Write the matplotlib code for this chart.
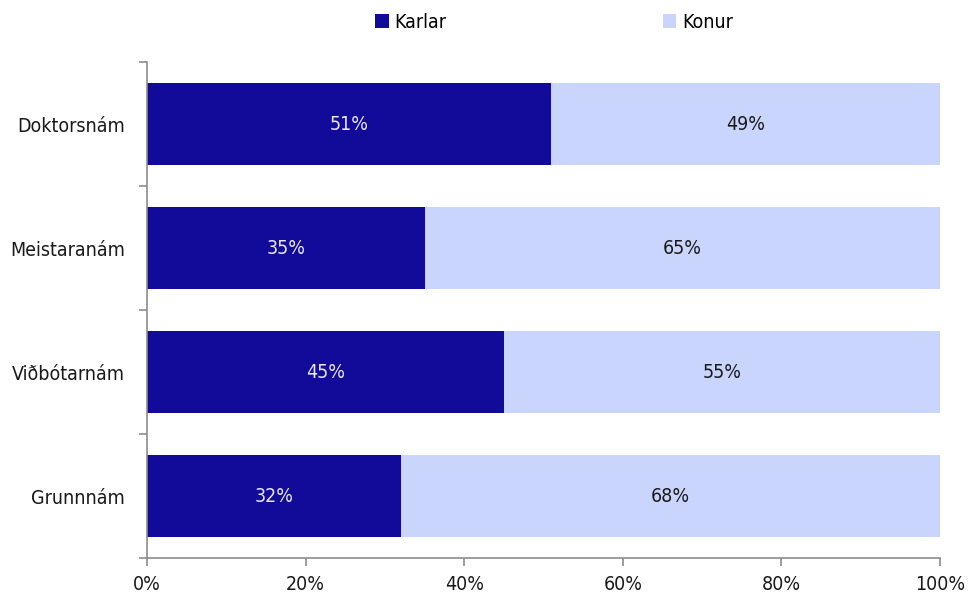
import matplotlib
matplotlib.use('Agg')
import matplotlib.pyplot as plt
from matplotlib.ticker import FuncFormatter, FixedLocator

plt.rcParams['font.family'] = ['DejaVu Sans']
plt.rcParams['font.stretch'] = 'condensed'

# ── Data ─────────────────────────────
categories = ['Doktorsnám', 'Meistaranám', 'Viðbótarnám', 'Grunnnám']
karlar = [51, 35, 45, 32]
konur = [49, 65, 55, 68]

DARK = '#120A99'
LIGHT = '#C9D5FC'
AXIS = '#8C8C8C'
FS = 14

fig = plt.figure(figsize=(9.72, 5.99), dpi=100)
fig.patch.set_facecolor('white')
ax = fig.add_axes([0.1512, 0.0684, 0.8160, 0.8281])

ypos = list(range(len(categories)))[::-1]
b1 = ax.barh(ypos, karlar, height=0.66, color=DARK, label='Karlar')
b2 = ax.barh(ypos, konur, left=karlar, height=0.66, color=LIGHT,
             label='Konur')

for y, k, w in zip(ypos, karlar, konur):
    ax.text(k / 2, y, f'{k}%', ha='center', va='center',
            color='#E8E8F4', fontsize=FS)
    ax.text(k + w / 2, y, f'{w}%', ha='center', va='center',
            color='#1A1A1A', fontsize=FS)

ax.set_xlim(0, 100)
ax.set_ylim(-0.5, len(categories) - 0.5)
ax.set_xticks(range(0, 101, 20))
ax.xaxis.set_major_formatter(FuncFormatter(lambda v, p: f'{v:.0f}%'))
ax.set_yticks(ypos)
ax.set_yticklabels(categories)
ax.yaxis.set_minor_locator(FixedLocator(
    [i - 0.5 for i in range(len(categories) + 1)]))
ax.tick_params(axis='y', which='major', length=0, pad=16,
               labelsize=FS, labelcolor='#1A1A1A')
ax.tick_params(axis='y', which='minor', length=6, color=AXIS,
               width=1.2, direction='out')
ax.tick_params(axis='x', length=6, color=AXIS, width=1.2,
               labelsize=FS, labelcolor='#1A1A1A', pad=6)

for s in ['top', 'right']:
    ax.spines[s].set_visible(False)
for s in ['left', 'bottom']:
    ax.spines[s].set_color(AXIS)
    ax.spines[s].set_linewidth(1.2)

fig.legend(handles=[b1, b2], labels=['Karlar', 'Konur'],
           loc='center', bbox_to_anchor=(0.570, 0.963), ncol=2,
           frameon=False, fontsize=FS, handlelength=0.7,
           handleheight=0.7, handletextpad=0.3, columnspacing=11.1)

fig.savefig('out.png', dpi=100, facecolor='white')
